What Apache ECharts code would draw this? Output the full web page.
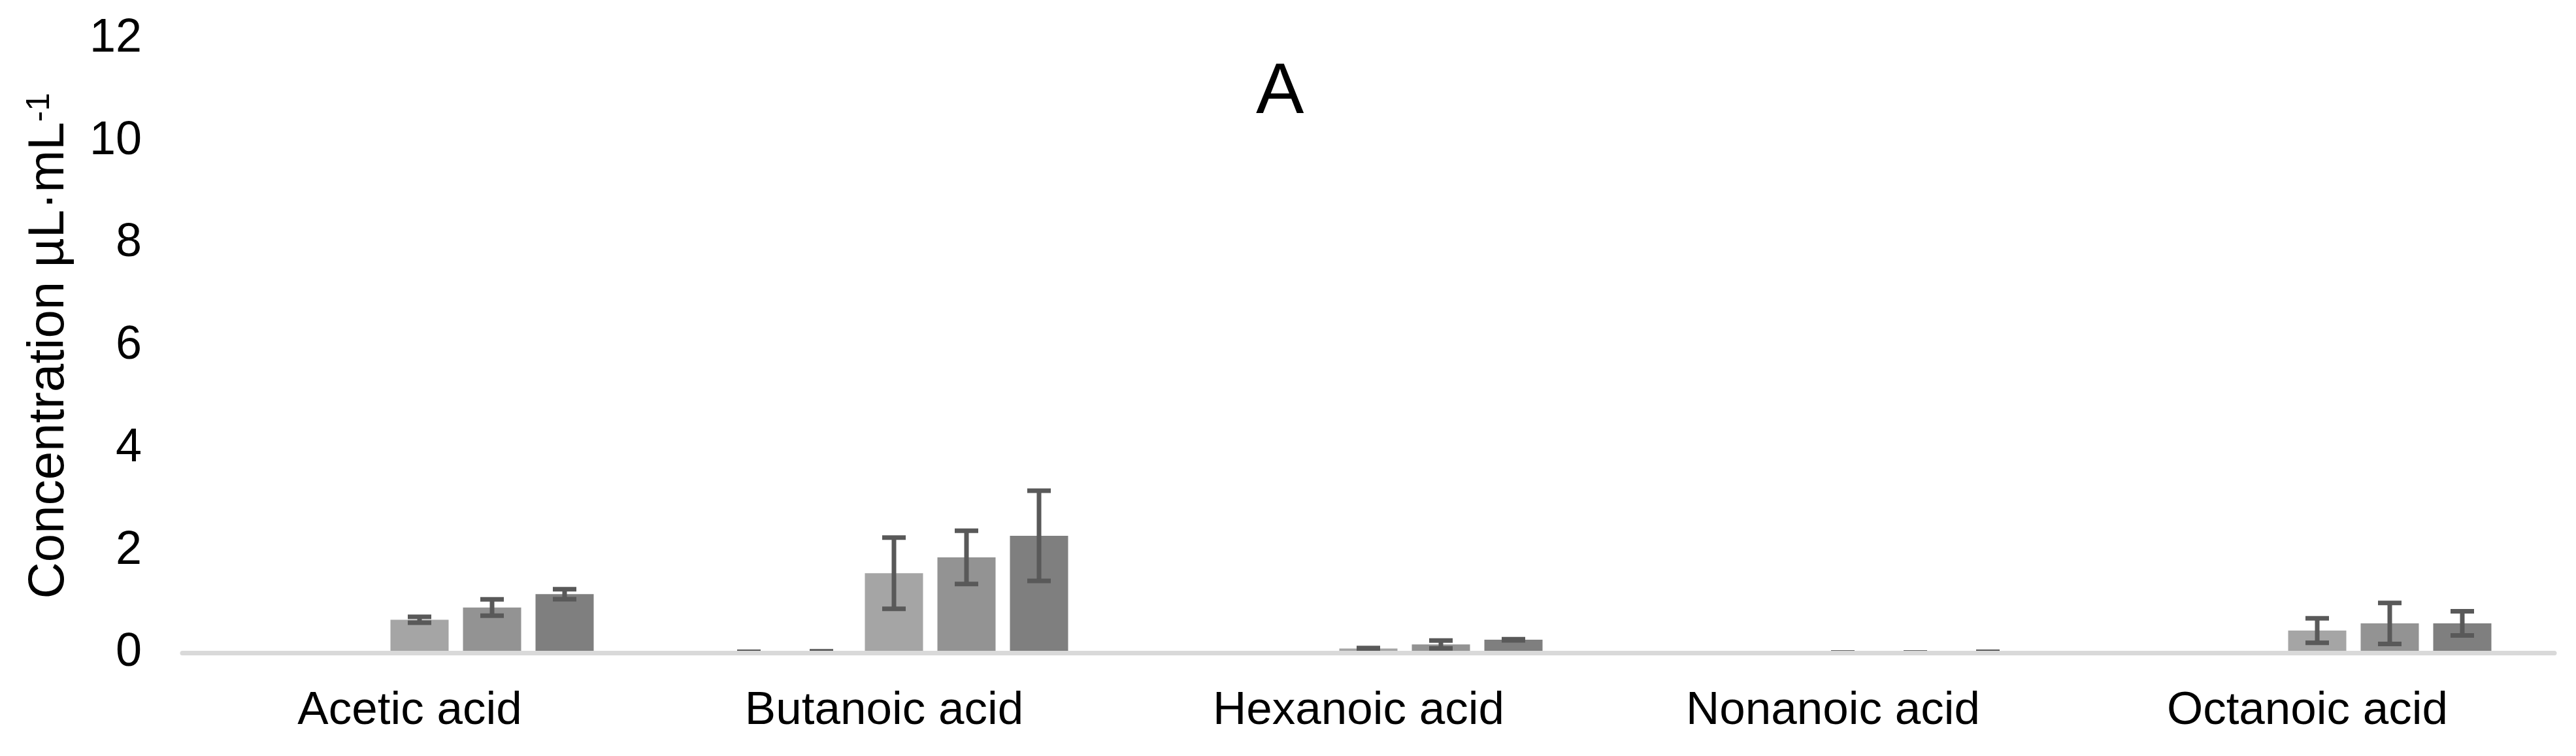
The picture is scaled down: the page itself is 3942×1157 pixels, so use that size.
<!DOCTYPE html>
<html>
<head>
<meta charset="utf-8">
<script src="https://cdn.jsdelivr.net/npm/echarts@6/dist/echarts.min.js"></script>
<style>
html,body{margin:0;padding:0;background:#fff;}
#chart{width:3942px;height:1157px;}
</style>
</head>
<body>
<div id="chart"></div>
<script>
// ---- data ----
const categories = ['Acetic acid', 'Butanoic acid', 'Hexanoic acid', 'Nonanoic acid', 'Octanoic acid'];
const seriesNames = ['S1', 'S2', 'S3', 'S4', 'S5'];
// mean values per series (one entry per category)
const s1 = [null, 0.02, null, null, 0.0];
const s2 = [null, 0.03, null, null, 0.0];
const s3 = [0.65, 1.56, 0.09, 0.01, 0.44];
const s4 = [0.89, 1.87, 0.17, 0.01, 0.58];
const s5 = [1.15, 2.29, 0.26, 0.025, 0.58];
// error (± half-length) per series
const e1 = [null, 0.005, null, null, 0.0];
const e2 = [null, 0.005, null, null, 0.0];
const e3 = [0.057, 0.695, 0.01, 0.0, 0.24];
const e4 = [0.16, 0.52, 0.077, 0.0, 0.40];
const e5 = [0.096, 0.88, 0.01, 0.0, 0.235];
const yTicks = [0, 2, 4, 6, 8, 10, 12];

const values = [s1, s2, s3, s4, s5];
const errors = [e1, e2, e3, e4, e5];
const colors = ['#D9D9D9', '#BFBFBF', '#A5A5A5', '#939393', '#7F7F7F'];

const BAR_W = 89;
const BAR_GAP = 22;
const FONT = '"Liberation Sans", Arial, sans-serif';

const chart = echarts.init(document.getElementById('chart'));

const barSeries = values.map((v, i) => ({
  name: seriesNames[i],
  type: 'bar',
  data: v,
  barWidth: BAR_W,
  barGap: (BAR_GAP / BAR_W * 100).toFixed(2) + '%',
  itemStyle: { color: colors[i] },
  z: 2,
  silent: true
}));

const errSeries = values.map((v, i) => ({
  name: seriesNames[i] + ' err',
  type: 'custom',
  z: 3,
  silent: true,
  data: v.map((val, c) => (val == null ? null : [c, val, errors[i][c]])).filter(d => d),
  renderItem: function (params, api) {
    const c = api.value(0), val = api.value(1), err = api.value(2);
    const off = (i - (values.length - 1) / 2) * (BAR_W + BAR_GAP);
    const x = api.coord([c, val])[0] + off;
    const yt = api.coord([c, val + err])[1];
    const yb = api.coord([c, val - err])[1];
    const half = 18;
    const st = { stroke: '#595959', lineWidth: 7, lineCap: 'butt' };
    return {
      type: 'group',
      children: [
        { type: 'line', shape: { x1: x, y1: yt, x2: x, y2: yb }, style: st },
        { type: 'line', shape: { x1: x - half, y1: yt, x2: x + half, y2: yt }, style: st },
        { type: 'line', shape: { x1: x - half, y1: yb, x2: x + half, y2: yb }, style: st }
      ]
    };
  }
}));

chart.setOption({
  backgroundColor: '#fff',
  animation: false,
  title: {
    text: 'A',
    left: 1922,
    top: 88,
    padding: 0,
    textStyle: { fontFamily: FONT, fontSize: 110, fontWeight: 'normal', color: '#000' }
  },
  grid: { left: 279, right: 33, top: 59, bottom: 157.5, containLabel: false },
  xAxis: {
    type: 'category',
    data: categories,
    z: 10,
    offset: 3,
    axisLine: { show: true, lineStyle: { color: '#D9D9D9', width: 7 } },
    axisTick: { show: false },
    axisLabel: { fontFamily: FONT, fontSize: 71, color: '#000', margin: 50, padding: [0, 30, 0, 0] },
    splitLine: { show: false }
  },
  yAxis: {
    type: 'value',
    min: yTicks[0],
    max: yTicks[yTicks.length - 1],
    interval: yTicks[1] - yTicks[0],
    axisLine: { show: false },
    axisTick: { show: false },
    splitLine: { show: false },
    axisLabel: { fontFamily: FONT, fontSize: 72, color: '#000', margin: 62 },
    name: '{a|Concentration µL·mL}{s|-1}',
    nameLocation: 'middle',
    nameRotate: 90,
    nameGap: 165,
    nameTextStyle: {
      fontFamily: FONT,
      color: '#000',
      rich: {
        a: { fontFamily: FONT, fontSize: 78, color: '#000', verticalAlign: 'bottom' },
        s: { fontFamily: FONT, fontSize: 50, color: '#000', verticalAlign: 'top' }
      }
    }
  },
  series: barSeries.concat(errSeries)
});
</script>
</body>
</html>
